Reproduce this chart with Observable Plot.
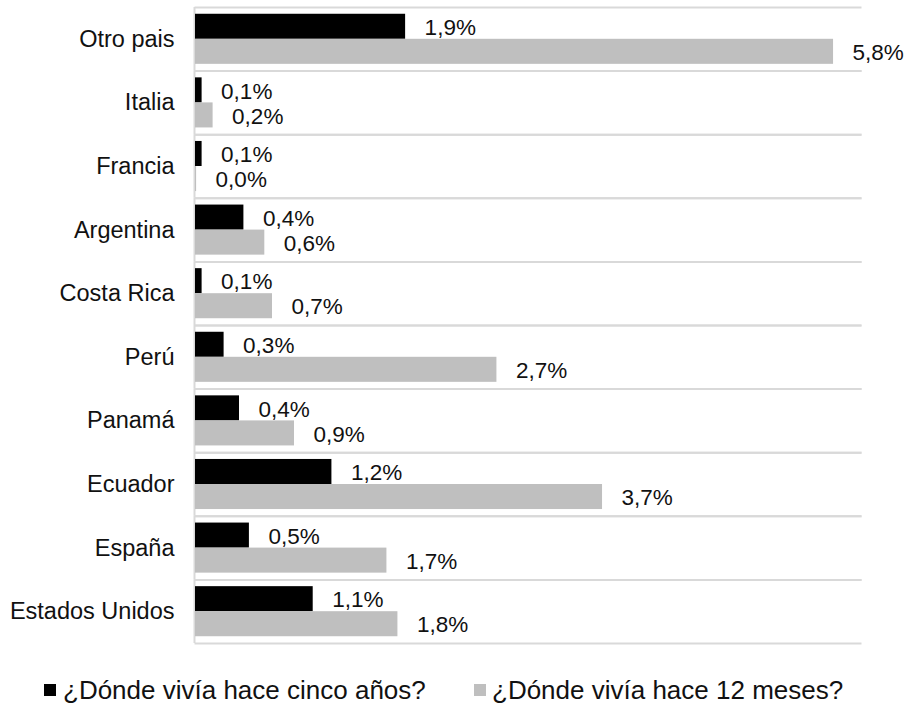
<!DOCTYPE html>
<html><head><meta charset="utf-8">
<script src="https://cdn.jsdelivr.net/npm/d3@7"></script>
<script src="https://cdn.jsdelivr.net/npm/@observablehq/plot@0.6"></script>
<style>
body{margin:0;background:#fff;font-family:"Liberation Sans",Arial,sans-serif;}
#chart svg{display:block;}
#legend{position:relative;width:909px;height:45px;font-size:26px;color:#111;}
#legend .sw{position:absolute;width:12px;height:12px;top:24px;}
#legend .lb{position:absolute;top:16px;line-height:28px;white-space:nowrap;}
</style></head><body><div id="chart"></div><div id="legend"></div><script>
const countries = ["Otro pais","Italia","Francia","Argentina","Costa Rica","Perú","Panamá","Ecuador","España","Estados Unidos"];
const series = ["¿Dónde vivía hace cinco años?","¿Dónde vivía hace 12 meses?"];
const cincoAnos = [1.91,0.06,0.06,0.44,0.06,0.26,0.40,1.24,0.49,1.07];
const doceMeses = [5.80,0.16,0.01,0.63,0.70,2.74,0.90,3.70,1.74,1.84];
const colors = ["#000000","#bfbfbf"];

const data = [];
countries.forEach((c,i)=>{
  data.push({country:c, serie:series[0], value:cincoAnos[i]});
  data.push({country:c, serie:series[1], value:doceMeses[i]});
});
const fmt = v => d3.format(".1f")(v).replace(".", ",") + "%";

const chart = Plot.plot({
  width: 909, height: 660,
  marginLeft: 195, marginRight: 49, marginTop: 7, marginBottom: 17,
  facet: {marginTop: 0, marginBottom: 0, marginLeft: 0, marginRight: 0},
  style: {fontFamily: '"Liberation Sans", Arial, sans-serif', background: "#fff", color: "#111"},
  x: {domain: [0, 6.045], axis: null},
  fy: {domain: countries, padding: 0, label: null, round: false},
  y: {domain: series, paddingInner: 0, paddingOuter: 0.27, axis: null, round: false},
  color: {domain: series, range: colors},
  marks: [
    Plot.frame({anchor: "top", stroke: "#d9d9d9", strokeWidth: 2}),
    Plot.frame({anchor: "bottom", stroke: "#d9d9d9", strokeWidth: 2}),
    Plot.ruleX([0], {stroke: "#d9d9d9", strokeWidth: 2, dx: -1}),
    Plot.barX(data, {fy: "country", y: "serie", x: "value", fill: "serie"}),
    Plot.text(data, {fy: "country", y: "serie", x: "value", text: d => fmt(d.value), textAnchor: "start", dx: 19, dy: 1, fontSize: 22.5, fill: "#111"}),
    Plot.axisFy({anchor: "left", tickSize: 0, tickPadding: 21, fontSize: 23.5, label: null, fill: "#111"})
  ]
});
document.getElementById("chart").appendChild(chart);

const lg = document.getElementById("legend");
const pos = [{sw:44, lb:63}, {sw:474, lb:492}];
series.forEach((s,i)=>{
  const sw = document.createElement("div"); sw.className="sw"; sw.style.left=pos[i].sw+"px"; sw.style.background=colors[i];
  const lb = document.createElement("div"); lb.className="lb"; lb.style.left=pos[i].lb+"px"; lb.textContent=s;
  lg.appendChild(sw); lg.appendChild(lb);
});
</script></body></html>
